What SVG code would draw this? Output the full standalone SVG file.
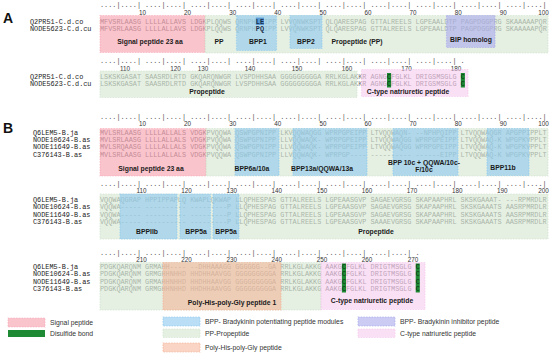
<svg xmlns="http://www.w3.org/2000/svg" width="550" height="358" viewBox="0 0 550 358">
<style>
.seq{font-family:"Liberation Mono",monospace;font-size:6.83px;fill:#7a7a7a}
.nm{font-family:"Liberation Mono",monospace;font-size:6.83px;fill:#222}
.rul{font-family:"Liberation Mono",monospace;font-size:6.83px;fill:#555}
.num{font-family:"Liberation Sans",Arial,sans-serif;font-size:6.3px;fill:#333;text-anchor:middle}
.lab{font-family:"Liberation Sans",Arial,sans-serif;font-size:6.8px;font-weight:bold;fill:#1a1a1a;text-anchor:middle}
.leg{font-family:"Liberation Sans",Arial,sans-serif;font-size:6.8px;fill:#333}
.big{font-family:"Liberation Sans",Arial,sans-serif;font-size:14px;font-weight:bold;fill:#111}
.sp{fill:#f799a8;fill-opacity:.58;stroke:#f799a8;stroke-opacity:.45;stroke-width:1.2;stroke-dasharray:1.5 1.2}
.pp{fill:#cfe3cc;fill-opacity:.55;stroke:#cfe3cc;stroke-opacity:.6;stroke-width:1.2;stroke-dasharray:1.5 1.2}
.bpp{fill:#8cc8ef;fill-opacity:.6;stroke:#8cc8ef;stroke-opacity:.6;stroke-width:1.2;stroke-dasharray:1.5 1.2}
.bip{fill:#a8a8ec;fill-opacity:.6;stroke:#a8a8ec;stroke-opacity:.6;stroke-width:1.2;stroke-dasharray:1.5 1.2}
.cnp{fill:#f5c6ec;fill-opacity:.55;stroke:#f5c6ec;stroke-opacity:.6;stroke-width:1.2;stroke-dasharray:1.5 1.2}
.phg{fill:#f5b093;fill-opacity:.55;stroke:#f5b093;stroke-opacity:.6;stroke-width:1.2;stroke-dasharray:1.5 1.2}
.ss{fill:#1e8a34}
.sst{font-family:"Liberation Mono",monospace;font-size:6.83px;fill:#0b3512}
.hl{fill:#4a8fd0;fill-opacity:.85}
.hlt{font-family:"Liberation Mono",monospace;font-size:6.83px;fill:#1b2f4a;font-weight:bold}
</style>
<rect width="550" height="358" fill="#fff"/>

<!-- Panel letters -->
<text class="big" x="3" y="22.7">A</text>
<text class="big" x="3" y="133">B</text>

<!-- ===== Section A, line 1 ===== -->
<g id="A1-ruler">
<text class="rul" x="100" y="6.5">....|....| ....|....| ....|....| ....|....| ....|....| ....|....| ....|....| ....|....| ....|....| ....|....|</text>
<text class="num" x="142.5" y="15.3">10</text><text class="num" x="187.6" y="15.3">20</text><text class="num" x="232.7" y="15.3">30</text><text class="num" x="277.8" y="15.3">40</text><text class="num" x="322.9" y="15.3">50</text><text class="num" x="368" y="15.3">60</text><text class="num" x="413.1" y="15.3">70</text><text class="num" x="458.2" y="15.3">80</text><text class="num" x="503.3" y="15.3">90</text><text class="num" x="543.5" y="15.3">100</text>
</g>
<g id="A1-names">
<text class="nm" x="30" y="23.6">Q2PR51-C.d.co</text>
<text class="nm" x="30" y="31">NODE5623-C.d.cu</text>
</g>
<g id="A1-seq">
<text class="seq" x="100" y="23.6">MFVSRLAASG LLLLALLAVS LDGKPLQQWS QRNPH</text>
<text class="seq" x="264" y="23.6">IPP LVVQNWKSPT QLQARESPAG GTTALREELS LGPEAALDTP PAGPDGGPRG SKAAAAAPQR</text>
<text class="seq" x="100" y="31">MFVSRLAASG LLLLALLAVS LDGKPLQQWS QRNPH</text>
<text class="seq" x="264" y="31">IPP LVVQNWKSPT QLQARESPAG GTTALREELS LGPEAALDTP PAGPDGGPRG SKAAAAAPQR</text>
</g>
<g id="A1-signal"><rect class="sp" x="100" y="15.5" width="105" height="37"/></g>
<g id="A1-propeptide"><rect class="pp" x="205" y="15.5" width="343" height="37.5"/></g>
<g id="A1-bpp1"><rect class="bpp" x="236.5" y="15.5" width="40" height="35"/></g>
<g id="A1-bpp2"><rect class="bpp" x="290" y="15.5" width="32" height="33"/></g>
<g id="A1-bip"><rect class="bip" x="446.5" y="15.5" width="48.5" height="32"/></g>
<g id="A1-highlight">
<rect class="hl" x="255.8" y="17.6" width="8.2" height="7.4"/>
<text class="hlt" x="255.8" y="23.6">LE</text>
<text class="hlt" x="255.8" y="31">PQ</text>
</g>
<g id="A1-labels">
<text class="lab" x="150" y="44">Signal peptide 23 aa</text>
<text class="lab" x="219" y="44">PP</text>
<text class="lab" x="258" y="44">BPP1</text>
<text class="lab" x="306" y="44">BPP2</text>
<text class="lab" x="357" y="44">Propeptide (PP)</text>
<text class="lab" x="471" y="42">BIP homolog</text>
</g>

<!-- ===== Section A, line 2 ===== -->
<g id="A2-ruler">
<text class="rul" x="100" y="63">....|....| ....|....| ....|....| ....|....| ....|....| ....|....| ....|....| ....|....| .</text>
<text class="num" x="125" y="71.3">110</text><text class="num" x="175.5" y="71.3">120</text><text class="num" x="203" y="71.3">130</text><text class="num" x="250" y="71.3">140</text><text class="num" x="297" y="71.3">150</text><text class="num" x="347" y="71.3">160</text><text class="num" x="406.5" y="71.3">170</text><text class="num" x="456" y="71.3">180</text>
</g>
<g id="A2-names">
<text class="nm" x="30" y="79">Q2PR51-C.d.co</text>
<text class="nm" x="30" y="86.3">NODE5623-C.d.cu</text>
</g>
<g id="A2-seq">
<text class="seq" x="100" y="79">LSKSKGASAT SAASRDLRTD GKQARQNWGR LVSPDHHSAA GGGGGGGGGA RRLKGLAKKR AGNG</text>
<text class="seq" x="391.1" y="79">FGLKL DRIGSMSGLG</text>
<text class="seq" x="100" y="86.3">LSKSKGASAT SAASRDLRTD GKQARQNWGR LVSPDHHSAA GGGGGGGGGA RRLKGLAKKR AGNG</text>
<text class="seq" x="391.1" y="86.3">FGLKL DRIGSMSGLG</text>
</g>
<g id="A2-propeptide"><rect class="pp" x="100" y="71" width="257" height="26.5"/></g>
<g id="A2-cnp"><rect class="cnp" x="361.5" y="69.5" width="106.5" height="27"/></g>
<g id="A2-disulfide">
<rect class="ss" x="387" y="73" width="4.1" height="14.5"/>
<rect class="ss" x="460.8" y="73" width="4.1" height="14.5"/>
<text class="sst" x="387" y="79">C</text><text class="sst" x="387" y="86.3">C</text>
<text class="sst" x="460.8" y="79">C</text><text class="sst" x="460.8" y="86.3">C</text>
</g>
<g id="A2-labels">
<text class="lab" x="207" y="94.3">Propeptide</text>
<text class="lab" x="408" y="93.8">C-type natriuretic peptide</text>
</g>

<!-- ===== Section B, line 1 ===== -->
<g id="B1-ruler">
<text class="rul" x="100" y="119">....|....| ....|....| ....|....| ....|....| ....|....| ....|....| ....|....| ....|....| ....|....| ....|....|</text>
<text class="num" x="142.5" y="126.3">10</text><text class="num" x="187.6" y="126.3">20</text><text class="num" x="232.7" y="126.3">30</text><text class="num" x="277.8" y="126.3">40</text><text class="num" x="322.9" y="126.3">50</text><text class="num" x="368" y="126.3">60</text><text class="num" x="413.1" y="126.3">70</text><text class="num" x="458.2" y="126.3">80</text><text class="num" x="503.3" y="126.3">90</text><text class="num" x="543.5" y="126.3">100</text>
</g>
<g id="B1-names">
<text class="nm" x="33" y="134.8">Q6LEM5-B.ja</text>
<text class="nm" x="33" y="142.1">NODE10624-B.as</text>
<text class="nm" x="33" y="149.4">NODE11649-B.as</text>
<text class="nm" x="33" y="156.7">C376143-B.as</text>
</g>
<g id="B1-seq">
<text class="seq" x="100" y="134.8">MVLSRLAASG LLLLALLALS VDGKPVQQWA QSWPGPNIPP LKVQQWAQGG WPRPGPEIPP LTVQQWAQN- --NPHPQIPP LTVQQWAQGR APGPPIPPLT</text>
<text class="seq" x="100" y="142.1">MVLSRLAASG LLLLALLALS VDGKPVQQWA QSWPGPNIPP LLVQQWAQK- WPRPGPEIPP LTVQQWAQGG WPRPGPEIPP LTVQQWAQ-K WPGPKVPPLT</text>
<text class="seq" x="100" y="149.4">MVLSRQAASG LLLLALLALS VDGKPVQQWA QSWPGPNIPP LLVQQWAQK- WPRPGPEIPP LTVQQWAQGG WPRPGPEIPP LTVQQWAQ-K WPGPKVPPLT</text>
<text class="seq" x="100" y="156.7">MVLSRLAASG LLLLALLALS VDGKPVQQWA QSWPGPNIPP LLVQQWAQK- WPRPGP---- ---------- ------EIPP LTVQQWAQ-K WPGPKVPPLT</text>
</g>
<g id="B1-signal"><rect class="sp" x="100" y="128.5" width="106" height="47.5"/></g>
<g id="B1-propeptide"><rect class="pp" x="206" y="128.5" width="342" height="47.5"/></g>
<g id="B1-bpp6a"><rect class="bpp" x="235" y="128.5" width="44" height="47"/></g>
<g id="B1-bpp13a"><rect class="bpp" x="293" y="128.5" width="74" height="47"/></g>
<g id="B1-bpp10c"><rect class="bpp" x="393" y="128.5" width="65" height="47"/></g>
<g id="B1-bpp11b"><rect class="bpp" x="487" y="128.5" width="42" height="47"/></g>
<g id="B1-labels">
<text class="lab" x="151" y="170.5">Signal peptide 23 aa</text>
<text class="lab" x="252" y="170.5">BPP6a/10a</text>
<text class="lab" x="322" y="170.5">BPP13a/QQWA/13a</text>
<text class="lab" x="424" y="164.5">BPP 10c + QQWA/10c-</text>
<text class="lab" x="424" y="171.7">F/10c</text>
<text class="lab" x="503" y="169.5">BPP11b</text>
</g>

<!-- ===== Section B, line 2 ===== -->
<g id="B2-ruler">
<text class="rul" x="100" y="185.5">....|....| ....|....| ....|....| ....|....| ....|....| ....|....| ....|....| ....|....| ....|....| ....|....|</text>
<text class="num" x="141.5" y="192.8">110</text><text class="num" x="186.6" y="192.8">120</text><text class="num" x="231.7" y="192.8">130</text><text class="num" x="276.8" y="192.8">140</text><text class="num" x="321.9" y="192.8">150</text><text class="num" x="367" y="192.8">160</text><text class="num" x="412.1" y="192.8">170</text><text class="num" x="457.2" y="192.8">180</text><text class="num" x="502.3" y="192.8">190</text><text class="num" x="543.5" y="192.8">200</text>
</g>
<g id="B2-names">
<text class="nm" x="33" y="201.6">Q6LEM5-B.ja</text>
<text class="nm" x="33" y="209.1">NODE10624-B.as</text>
<text class="nm" x="33" y="216.6">NODE11649-B.as</text>
<text class="nm" x="33" y="224">C376143-B.as</text>
</g>
<g id="B2-seq">
<text class="seq" x="100" y="201.6">VQQWAQGRAP HPPIPPAPLQ KWAPLQKWAP LLQPHESPAS GTTALREELS LGPEAASGVP SAGAEVGRSG SKAPAAPHRL SKSKGAAAT- ---RPMRDLR</text>
<text class="seq" x="100" y="209.1">VQQWA----- ---------- ---------P LLQPHESPAG GTTALREELS LGPEAASGVP SAGAEVGRSG SKAPAAPHRL SKSKGAAATS AASRPMRDLR</text>
<text class="seq" x="100" y="216.6">VQQWA----- ---------- ---------P LLQPHESPAG GTTALREELS LGPEAASGVP SAGAEVGRSG SKAPAAPHRL SKSKGAAATS AASRPMRDLR</text>
<text class="seq" x="100" y="224">VQQWA----- ---------- ---------P LLQPHESPAG GTTALREELS LGPEAASGVP SAAAEVGRSG SKAPAAPHRL SKSKGAAATS AASRPMRDLR</text>
</g>
<g id="B2-propeptide"><rect class="pp" x="100" y="194" width="448" height="45"/></g>
<g id="B2-bppIIb"><rect class="bpp" x="120" y="194" width="57" height="45"/></g>
<g id="B2-bpp5a-1"><rect class="bpp" x="180" y="194" width="30.5" height="45"/></g>
<g id="B2-bpp5a-2"><rect class="bpp" x="213" y="194" width="26" height="45"/></g>
<g id="B2-labels">
<text class="lab" x="147" y="234.2">BPPIIb</text>
<text class="lab" x="196" y="234.2">BPP5a</text>
<text class="lab" x="226" y="234.2">BPP5a</text>
<text class="lab" x="376" y="234.2">Propeptide</text>
</g>

<!-- ===== Section B, line 3 ===== -->
<g id="B3-ruler">
<text class="rul" x="100" y="255">....|....| ....|....| ....|....| ....|....| ....|....| ....|....| ....|....| .</text>
<text class="num" x="141.5" y="261.6">210</text><text class="num" x="186.6" y="261.6">220</text><text class="num" x="231.7" y="261.6">230</text><text class="num" x="276.8" y="261.6">240</text><text class="num" x="321.9" y="261.6">250</text><text class="num" x="367" y="261.6">260</text><text class="num" x="413" y="261.6">270</text>
</g>
<g id="B3-names">
<text class="nm" x="33" y="269">Q6LEM5-B.ja</text>
<text class="nm" x="33" y="276.4">NODE10624-B.as</text>
<text class="nm" x="33" y="283.8">NODE11649-B.as</text>
<text class="nm" x="33" y="291.2">C376143-B.as</text>
</g>
<g id="B3-seq">
<text class="seq" x="100" y="269">PDGKQARQNM GRMAHH---- --DHHAAAGG GGGGGG--GA RRLKGLAKKG AAKG</text>
<text class="seq" x="346" y="269">FGLKL DRIGTMSGLG</text>
<text class="seq" x="100" y="276.4">PDGKQARQNM GRMGHHNHHD HHDHHAAVGG GGGGGGGGGA RRLKGLAKKG AAKG</text>
<text class="seq" x="346" y="276.4">FGLKL DRIGTMSGLG</text>
<text class="seq" x="100" y="283.8">PDGKQARQNM GRMAHHNHHD HHDHHAAVGG GGGGGGGGGA RRLKGLAKKG AAKG</text>
<text class="seq" x="346" y="283.8">FGLKL DRIGTMSGLG</text>
<text class="seq" x="100" y="291.2">PDGKQARQNM GRMGHHNHHD HHDHHAAVGG GGGGGGGGGA RRLKGLAKKG AAKG</text>
<text class="seq" x="346" y="291.2">FGLKL DRIGTMSGLG</text>
</g>
<g id="B3-propeptide"><rect class="pp" x="100" y="262.5" width="221" height="47.5"/></g>
<g id="B3-polyhis"><rect class="phg" x="163" y="262.5" width="118" height="47.5"/></g>
<g id="B3-cnp"><rect class="cnp" x="321" y="262.5" width="104" height="47"/></g>
<g id="B3-disulfide">
<rect class="ss" x="341.9" y="263.5" width="4.1" height="29"/>
<rect class="ss" x="415.7" y="263.5" width="4.1" height="29"/>
<text class="sst" x="341.9" y="269">C</text><text class="sst" x="341.9" y="276.4">C</text><text class="sst" x="341.9" y="283.8">C</text><text class="sst" x="341.9" y="291.2">C</text>
<text class="sst" x="415.7" y="269">C</text><text class="sst" x="415.7" y="276.4">C</text><text class="sst" x="415.7" y="283.8">C</text><text class="sst" x="415.7" y="291.2">C</text>
</g>
<g id="B3-labels">
<text class="lab" x="232" y="304.5">Poly-His-poly-Gly peptide 1</text>
<text class="lab" x="372" y="303">C-type natriuretic peptide</text>
</g>

<!-- ===== Legend ===== -->
<g id="legend-signal"><rect class="sp" x="8" y="318" width="37" height="9"/><text class="leg" x="50" y="325">Signal peptide</text></g>
<g id="legend-disulfide"><rect class="ss" x="8" y="330" width="37" height="7"/><text class="leg" x="50" y="336">Disulfide bond</text></g>
<g id="legend-bpp"><rect class="bpp" x="163" y="317" width="37" height="9"/><text class="leg" x="205" y="324">BPP- Bradykinin potentiating peptide modules</text></g>
<g id="legend-pp"><rect class="pp" x="163" y="329" width="37" height="8.5"/><text class="leg" x="205" y="336">PP-Propeptide</text></g>
<g id="legend-polyhis"><rect class="phg" x="163" y="343" width="37" height="9"/><text class="leg" x="205" y="350">Poly-His-poly-Gly peptide</text></g>
<g id="legend-bip"><rect class="bip" x="358" y="317" width="37" height="9"/><text class="leg" x="400" y="324">BPP- Bradykinin inhibitor peptide</text></g>
<g id="legend-cnp"><rect class="cnp" x="358" y="329" width="37" height="8.5"/><text class="leg" x="400" y="336">C-type natriuretic peptide</text></g>
</svg>
